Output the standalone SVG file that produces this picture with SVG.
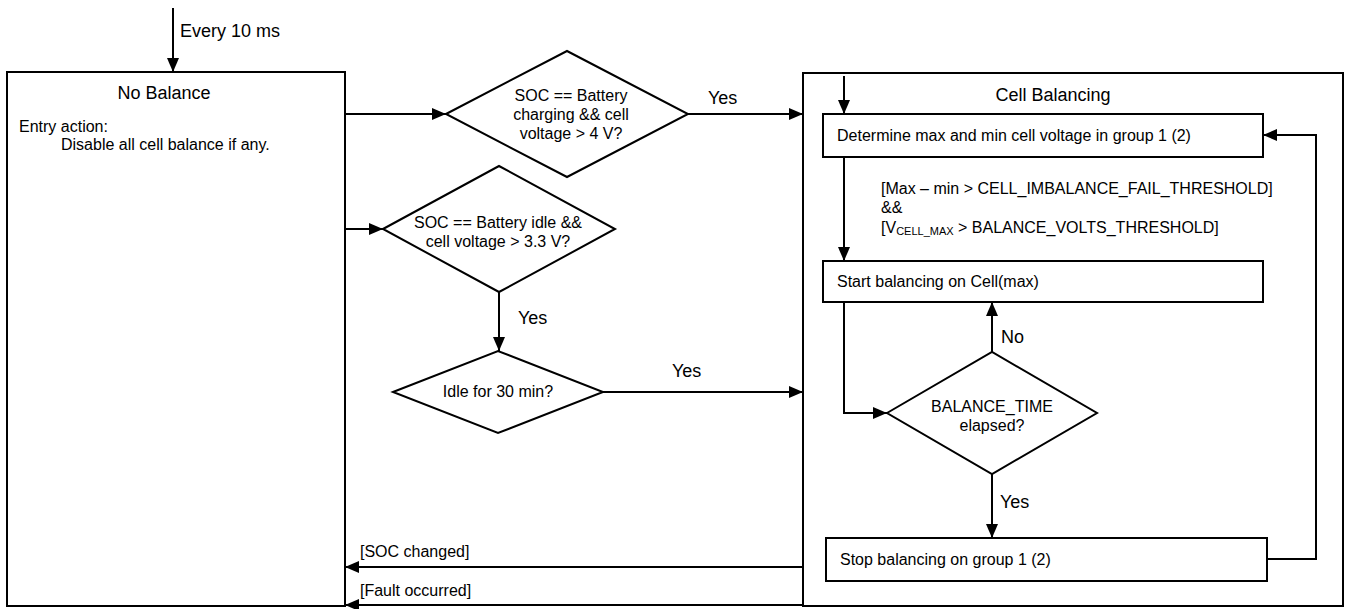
<svg xmlns="http://www.w3.org/2000/svg" width="1347" height="609" viewBox="0 0 1347 609">
<style>
.box{fill:#fff;stroke:#000;stroke-width:2}
.ln{fill:none;stroke:#000;stroke-width:2}
text{font-family:"Liberation Sans",Arial,sans-serif;fill:#000}
.t18{font-size:18px}
.t16{font-size:16px}
.mid{text-anchor:middle}
</style>
<defs>
<marker id="ah" viewBox="0 0 14 12" refX="14" refY="6" markerWidth="14" markerHeight="12" markerUnits="userSpaceOnUse" orient="auto">
<path d="M0,0 L14,6 L0,12 Z" fill="#000"/>
</marker>
</defs>
<rect width="1347" height="609" fill="#fff"/>

<g id="no-balance">
<rect class="box" x="7" y="72" width="338" height="534"/>
<text class="t18 mid" x="164" y="99">No Balance</text>
<text class="t16" x="19" y="132">Entry action:</text>
<text class="t16" x="61" y="150">Disable all cell balance if any.</text>
</g>

<g id="cell-balancing">
<rect class="box" x="803" y="73" width="540" height="533"/>
<text class="t18 mid" x="1053" y="101">Cell Balancing</text>
</g>

<g id="dec-charging">
<polygon class="box" points="446,114 567,51 688,114 567,177"/>
<text class="t16 mid" x="571" y="101">SOC == Battery</text>
<text class="t16 mid" x="571" y="120">charging &amp;&amp; cell</text>
<text class="t16 mid" x="571" y="139">voltage &gt; 4 V?</text>
</g>

<g id="dec-idle">
<polygon class="box" points="383,229 499,166 615,229 499,292"/>
<text class="t16 mid" x="498" y="228">SOC == Battery idle &amp;&amp;</text>
<text class="t16 mid" x="498" y="247">cell voltage &gt; 3.3 V?</text>
</g>

<g id="dec-30min">
<polygon class="box" points="393,392 498,351 603,392 498,433"/>
<text class="t16 mid" x="498" y="397">Idle for 30 min?</text>
</g>

<g id="determine">
<rect class="box" x="823" y="114" width="440" height="43"/>
<text class="t16" x="837" y="141">Determine max and min cell voltage in group 1 (2)</text>
</g>

<g id="start">
<rect class="box" x="823" y="261" width="440" height="41"/>
<text class="t16" x="837" y="287">Start balancing on Cell(max)</text>
</g>

<g id="dec-time">
<polygon class="box" points="887,413 992,352 1097,413 992,474"/>
<text class="t16 mid" x="992" y="412">BALANCE_TIME</text>
<text class="t16 mid" x="992" y="431">elapsed?</text>
</g>

<g id="stop">
<rect class="box" x="826" y="538" width="441" height="43"/>
<text class="t16" x="840" y="565">Stop balancing on group 1 (2)</text>
</g>

<g id="connectors">
<line class="ln" x1="173" y1="8" x2="173" y2="72" marker-end="url(#ah)"/>
<line class="ln" x1="345" y1="114" x2="446" y2="114" marker-end="url(#ah)"/>
<line class="ln" x1="688" y1="114" x2="803" y2="114" marker-end="url(#ah)"/>
<line class="ln" x1="345" y1="229" x2="383" y2="229" marker-end="url(#ah)"/>
<line class="ln" x1="499" y1="292" x2="499" y2="351" marker-end="url(#ah)"/>
<line class="ln" x1="603" y1="392" x2="803" y2="392" marker-end="url(#ah)"/>
<line class="ln" x1="844" y1="76" x2="844" y2="114" marker-end="url(#ah)"/>
<line class="ln" x1="844" y1="157" x2="844" y2="261" marker-end="url(#ah)"/>
<polyline class="ln" points="844,302 844,413 887,413" marker-end="url(#ah)"/>
<line class="ln" x1="992" y1="352" x2="992" y2="302" marker-end="url(#ah)"/>
<line class="ln" x1="992" y1="474" x2="992" y2="538" marker-end="url(#ah)"/>
<polyline class="ln" points="1267,559 1316,559 1316,135 1263,135" marker-end="url(#ah)"/>
<line class="ln" x1="803" y1="567" x2="345" y2="567" marker-end="url(#ah)"/>
<line class="ln" x1="803" y1="605" x2="345" y2="605" marker-end="url(#ah)"/>
<text class="t18" x="180" y="37">Every 10 ms</text>
<text class="t18" x="708" y="104">Yes</text>
<text class="t18" x="518" y="324">Yes</text>
<text class="t18" x="672" y="377">Yes</text>
<text class="t18" x="1001" y="343">No</text>
<text class="t18" x="1000" y="508">Yes</text>
<text class="t16" x="881" y="194">[Max – min &gt; CELL_IMBALANCE_FAIL_THRESHOLD]</text>
<text class="t16" x="881" y="213">&amp;&amp;</text>
<text class="t16" x="881" y="233">[V<tspan font-size="11" dy="2">CELL_MAX</tspan><tspan dy="-2"> &gt; BALANCE_VOLTS_THRESHOLD]</tspan></text>
<text class="t16" x="360" y="557">[SOC changed]</text>
<text class="t16" x="360" y="596">[Fault occurred]</text>
</g>
</svg>
